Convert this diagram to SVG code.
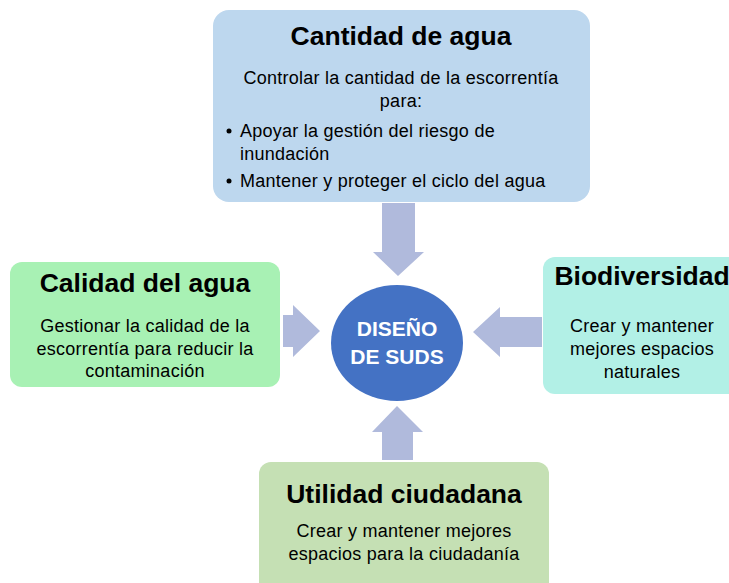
<svg xmlns="http://www.w3.org/2000/svg" width="729" height="583" viewBox="0 0 729 583">
<style>
.t{font-family:"Liberation Sans",Arial,sans-serif;font-weight:bold;font-size:26.5px;fill:#000;text-anchor:middle}
.b{font-family:"Liberation Sans",Arial,sans-serif;font-size:18px;letter-spacing:0.25px;fill:#000;text-anchor:middle}
.bl{font-family:"Liberation Sans",Arial,sans-serif;font-size:18px;letter-spacing:0.25px;fill:#000}
.c{font-family:"Liberation Sans",Arial,sans-serif;font-weight:bold;font-size:21px;fill:#fff;text-anchor:middle}
.ar{fill:#B0BADC}
</style>
<rect width="729" height="583" fill="#fff"/>
<g id="connectors">
<polygon class="ar" points="382,203 415,203 415,252 424,252 398,276 373,252 382,252"/>
<polygon class="ar" points="283,315 293,315 293,305 320,331 293,357 293,347 283,347"/>
<polygon class="ar" points="542,317 500,317 500,307 473,332 500,357 500,347 542,347"/>
<polygon class="ar" points="382,460 413,460 413,432 423,432 397,406 372,432 382,432"/>
</g>
<g id="cantidad">
<rect x="213" y="10" width="377" height="192" rx="16" fill="#BDD7EE"/>
<text class="t" x="401" y="45">Cantidad de agua</text>
<text class="b" x="401" y="84">Controlar la cantidad de la escorrentía</text>
<text class="b" x="401" y="107">para:</text>
<circle cx="229" cy="131" r="2.5" fill="#000"/>
<text class="bl" x="240" y="137">Apoyar la gestión del riesgo de</text>
<text class="bl" x="240" y="160">inundación</text>
<circle cx="229" cy="181" r="2.5" fill="#000"/>
<text class="bl" x="240" y="187">Mantener y proteger el ciclo del agua</text>
</g>
<g id="calidad">
<rect x="10" y="262" width="270" height="125" rx="12" fill="#A8F1B4"/>
<text class="t" x="145" y="292">Calidad del agua</text>
<text class="b" x="145" y="332">Gestionar la calidad de la</text>
<text class="b" x="145" y="355">escorrentía para reducir la</text>
<text class="b" x="145" y="377">contaminación</text>
</g>
<g id="diseno">
<ellipse cx="397" cy="343" rx="66" ry="58" fill="#4472C4"/>
<text class="c" x="397" y="336">DISEÑO</text>
<text class="c" x="397" y="364">DE SUDS</text>
</g>
<g id="biodiversidad">
<rect x="543" y="257" width="200" height="137" rx="12" fill="#B2F0E6"/>
<text class="t" x="642" y="285">Biodiversidad</text>
<text class="b" x="642" y="332">Crear y mantener</text>
<text class="b" x="642" y="355">mejores espacios</text>
<text class="b" x="642" y="378">naturales</text>
</g>
<g id="utilidad">
<rect x="259" y="462" width="290" height="140" rx="12" fill="#C5E0B4"/>
<text class="t" x="404" y="503">Utilidad ciudadana</text>
<text class="b" x="404" y="537">Crear y mantener mejores</text>
<text class="b" x="404" y="560">espacios para la ciudadanía</text>
</g>
</svg>
